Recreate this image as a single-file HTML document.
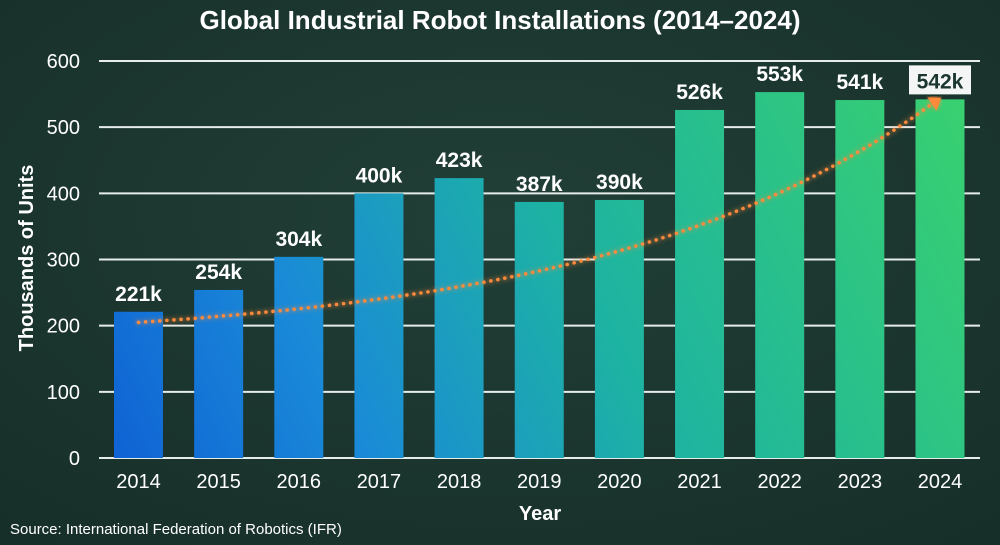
<!DOCTYPE html>
<html><head><meta charset="utf-8"><style>
html,body{margin:0;padding:0;background:#1b3630;}
svg{display:block;font-family:"Liberation Sans",sans-serif;}
</style></head><body>
<svg id="chart" width="1000" height="545" viewBox="0 0 1000 545">
<defs>
<radialGradient id="bg" cx="50%" cy="40%" r="75%"><stop offset="0" stop-color="#213f37"/><stop offset="1" stop-color="#172f29"/></radialGradient>
<linearGradient id="barg" gradientUnits="userSpaceOnUse" x1="110" y1="460" x2="940" y2="60">
<stop offset="0" stop-color="#0f62d4"/><stop offset="0.25" stop-color="#1a8ad8"/><stop offset="0.55" stop-color="#1db3a2"/><stop offset="1" stop-color="#38d070"/></linearGradient>
<filter id="glow"><feGaussianBlur stdDeviation="2.5" result="b"/><feMerge><feMergeNode in="b"/><feMergeNode in="SourceGraphic"/></feMerge></filter>
</defs>
<rect width="1000" height="545" fill="url(#bg)"/>
<text x="500" y="29" text-anchor="middle" fill="#fff" font-size="26" font-weight="bold">Global Industrial Robot Installations (2014–2024)</text>
<text transform="translate(33,258) rotate(-90)" text-anchor="middle" fill="#fff" font-size="20" font-weight="bold">Thousands of Units</text>
<text x="540" y="520" text-anchor="middle" fill="#fff" font-size="20" font-weight="bold">Year</text>
<text x="10" y="534" fill="#fff" font-size="15">Source: International Federation of Robotics (IFR)</text>
<g id="grid"></g><g id="bars"></g><g id="trend"></g><g id="labels"></g>
</svg>
<script>
const years=['2014','2015','2016','2017','2018','2019','2020','2021','2022','2023','2024'];
const installs=[221,254,304,400,423,387,390,526,553,541,542];
const valueLabels=['221k','254k','304k','400k','423k','387k','390k','526k','553k','541k','542k'];
const yTicks=[0,100,200,300,400,500,600];
const trendStart=205, trendEnd=535;
const NS='http://www.w3.org/2000/svg';
const y0=458,y600=61,xL=99,xR=980,x0=138.5,step=80.15,bw=49;
const y=v=>y0-(v/600)*(y0-y600);
const x=i=>x0+i*step;
function mk(t,a,p){const e=document.createElementNS(NS,t);for(const k in a)e.setAttribute(k,a[k]);p.appendChild(e);return e;}
const grid=document.getElementById('grid'),bars=document.getElementById('bars'),labels=document.getElementById('labels'),trend=document.getElementById('trend');
yTicks.forEach(t=>{
 const l=mk('line',{x1:xL,x2:xR,y1:y(t),y2:y(t),stroke:'#e6ece9','stroke-width':2},grid);
 
 
 const tx=mk('text',{x:80,y:y(t)+7,'text-anchor':'end',fill:'#fff','font-size':20},grid);tx.textContent=t;
 
 
});
years.forEach((yr,i)=>{
 const r=mk('rect',{x:x(i)-bw/2,y:y(installs[i]),width:bw,height:y0-y(installs[i]),fill:'url(#barg)'},bars);
 
 
 const tx=mk('text',{x:x(i),y:488,'text-anchor':'middle',fill:'#fff','font-size':20},labels);tx.textContent=yr;
 
 
 const last=i===years.length-1;
 if(last){const b=mk('rect',{x:x(i)-31,y:y(installs[i])-34,width:62,height:29,fill:'#f4f6f5'},labels);
  
  }
 const v=mk('text',{x:x(i),y:y(installs[i])-11,'text-anchor':'middle',fill:last?'#1b3630':'#fff','font-size':21,'font-weight':'bold'},labels);v.textContent=valueLabels[i];
 
 
});
const n=years.length-1;const pts=[];
for(let k=0;k<=40;k++){const f=k/40;const xi=x(0)+f*(x(n)-8-x(0));const g=(Math.exp(2.4*f)-1)/(Math.exp(2.4)-1);pts.push([xi,y(trendStart+g*(trendEnd-trendStart))]);}
const p=mk('path',{d:'M'+pts.map(q=>q[0].toFixed(1)+','+q[1].toFixed(1)).join(' L'),fill:'none',stroke:'#ff8a3a','stroke-width':3.5,'stroke-dasharray':'0.1 7','stroke-linecap':'round',filter:'url(#glow)'},trend);


const e=pts[pts.length-1],s=pts[pts.length-3];const ang=Math.atan2(e[1]-s[1],e[0]-s[0]);
const tip=[e[0]+11*Math.cos(ang),e[1]+11*Math.sin(ang)];
const c1=[e[0]+8*Math.cos(ang+Math.PI/2),e[1]+8*Math.sin(ang+Math.PI/2)],c2=[e[0]-8*Math.cos(ang+Math.PI/2),e[1]-8*Math.sin(ang+Math.PI/2)];
const a=mk('polygon',{points:[tip,c1,c2].map(q=>q.join(',')).join(' '),fill:'#ff8a3a',filter:'url(#glow)'},trend);


</script>
</body></html>
